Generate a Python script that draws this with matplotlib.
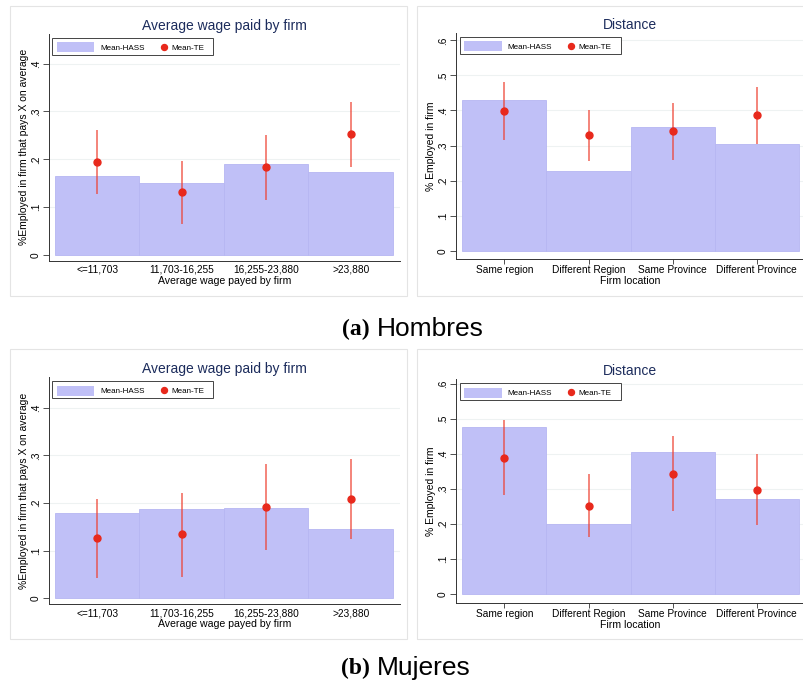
import numpy as np
import matplotlib
matplotlib.use("Agg")
import matplotlib.pyplot as plt
from matplotlib.patches import Rectangle
from matplotlib.lines import Line2D

plt.rcParams['font.family'] = ['Liberation Sans', 'DejaVu Sans']

# data
wage_cats = ["<=11,703", "11,703-16,255", "16,255-23,880", ">23,880"]
dist_cats = ["Same region", "Different Region", "Same Province", "Different Province"]

# Hombres
h_wage_hass = [0.166, 0.150, 0.191, 0.174]
h_wage_te = [0.195, 0.131, 0.183, 0.253]
h_wage_lo = [0.127, 0.065, 0.115, 0.185]
h_wage_hi = [0.262, 0.196, 0.250, 0.320]

h_dist_hass = [0.431, 0.226, 0.354, 0.303]
h_dist_te = [0.399, 0.330, 0.341, 0.387]
h_dist_lo = [0.317, 0.257, 0.260, 0.305]
h_dist_hi = [0.480, 0.402, 0.421, 0.468]

# Mujeres
m_wage_hass = [0.180, 0.187, 0.190, 0.145]
m_wage_te = [0.126, 0.134, 0.192, 0.208]
m_wage_lo = [0.043, 0.045, 0.101, 0.125]
m_wage_hi = [0.208, 0.222, 0.282, 0.292]

m_dist_hass = [0.477, 0.201, 0.405, 0.271]
m_dist_te = [0.389, 0.252, 0.344, 0.298]
m_dist_lo = [0.282, 0.163, 0.237, 0.197]
m_dist_hi = [0.497, 0.343, 0.450, 0.400]

bar_col = '#c0c0f7'
red = '#e8291c'
navy = '#1c2c5c'

W, H = 804, 683
fig = plt.figure(figsize=(W / 100, H / 100), dpi=100)


def fx(px):
    return px / W


def fy(py):
    return 1 - py / H


def px_axes(l, t, r, b):
    return fig.add_axes([fx(l), fy(b), (r - l) / W, (b - t) / H])


def frame(l, t, r, b):
    fig.patches.append(Rectangle((fx(l), fy(b)), (r - l) / W, (b - t) / H,
                                 transform=fig.transFigure, fill=False,
                                 edgecolor='#e4e4e4', linewidth=0.8))


def legend_box(l, t):
    # Stata-like legend drawn at pixel offsets from the axes top-left corner
    fig.add_artist(Rectangle((fx(l + 3.5), fy(t + 21)), 161 / W, 17 / H,
                             transform=fig.transFigure, facecolor='white',
                             edgecolor='#444444', linewidth=0.7, zorder=10))
    fig.add_artist(Rectangle((fx(l + 8), fy(t + 18.3)), 37.5 / W, 10 / H,
                             transform=fig.transFigure, facecolor=bar_col,
                             edgecolor='none', zorder=11))
    fig.text(fx(l + 51), fy(t + 13.3), 'Mean-HASS', fontsize=5.8,
             va='center_baseline', zorder=11)
    fig.add_artist(Line2D([fx(l + 115)], [fy(t + 12.5)], marker='o', color=red,
                          markersize=4.3, linestyle='none',
                          transform=fig.transFigure, zorder=11))
    fig.text(fx(l + 122.5), fy(t + 13.3), 'Mean-TE', fontsize=5.8,
             va='center_baseline', zorder=11)


def panel(box, cats, hass, te, lo, hi, title, xlabel, ylabel, yticks, ylim, xlim, xtick_len):
    l, t, r, b = box
    ax = px_axes(l, t, r, b)
    x = np.arange(1, len(cats) + 1)
    ax.bar(x, hass, width=1.0, color=bar_col, edgecolor='#b6b6f2', linewidth=0.6, zorder=2)
    ax.vlines(x, lo, hi, color='#ee4030', alpha=0.75, linewidth=1.2, zorder=3)
    ax.plot(x, te, 'o', color=red, markersize=5, zorder=4)
    ax.set_xlim(*xlim)
    ax.set_ylim(*ylim)
    ax.set_xticks(x)
    ax.set_xticklabels(cats, fontsize=7.3)
    ax.set_yticks(yticks)
    ax.set_yticklabels(['0' if v == 0 else ('%.1f' % v)[1:] for v in yticks],
                       fontsize=7.3, rotation=90, va='center')
    for v in yticks[1:]:
        ax.axhline(v, color='#eef2f2', linewidth=0.8, zorder=1)
    ax.tick_params(axis='y', direction='out', length=4.5, width=0.6, color='#333333', pad=1.5)
    ax.tick_params(axis='x', direction='out', length=xtick_len, width=0.6, color='#333333',
                   pad=3 if xtick_len == 0 else 1)
    ax.set_xlabel(xlabel, fontsize=7.6, labelpad=0.5)
    ax.set_ylabel(ylabel, fontsize=7.5, labelpad=1.5)
    ax.set_title(title, fontsize=10, color=navy, pad=3)
    for s in ['top', 'right']:
        ax.spines[s].set_visible(False)
    for s in ['left', 'bottom']:
        ax.spines[s].set_linewidth(0.7)
        ax.spines[s].set_color('#333333')
    legend_box(l, t)
    return ax


wage_ticks = [0, 0.1, 0.2, 0.3, 0.4]
dist_ticks = [0, 0.1, 0.2, 0.3, 0.4, 0.5, 0.6]
wage_ylab = '%Employed in firm that pays X on average'
dist_ylab = '% Employed in firm'

frame(10, 6, 407, 296)
frame(417, 6, 806, 296)
frame(10, 349, 407, 639)
frame(417, 349, 806, 639)

panel((49, 34, 400, 260.7), wage_cats, h_wage_hass, h_wage_te, h_wage_lo, h_wage_hi,
      'Average wage paid by firm', 'Average wage payed by firm', wage_ylab,
      wage_ticks, (-0.0119, 0.462), (0.429, 4.583), 0)

panel((456, 33, 804, 259), dist_cats, h_dist_hass, h_dist_te, h_dist_lo, h_dist_hi,
      'Distance', 'Firm location', dist_ylab,
      dist_ticks, (-0.0237, 0.621), (0.425, 4.56), 3.5)

panel((49, 377.3, 400, 604.3), wage_cats, m_wage_hass, m_wage_te, m_wage_lo, m_wage_hi,
      'Average wage paid by firm', 'Average wage payed by firm', wage_ylab,
      wage_ticks, (-0.0126, 0.464), (0.429, 4.583), 0)

panel((456, 379.3, 804, 602.6), dist_cats, m_dist_hass, m_dist_te, m_dist_lo, m_dist_hi,
      'Distance', 'Firm location', dist_ylab,
      dist_ticks, (-0.0236, 0.613), (0.425, 4.56), 3.5)

# captions
for y, tag, word in [(329, '(a)', 'Hombres'), (668, '(b)', 'Mujeres')]:
    fig.text(fx(369.5), fy(y), tag, fontsize=17, fontweight='bold',
             family='Liberation Serif', ha='right', va='center')
    fig.text(fx(376.5), fy(y), word, fontsize=19, ha='left', va='center')

fig.savefig('out.png', dpi=100)
